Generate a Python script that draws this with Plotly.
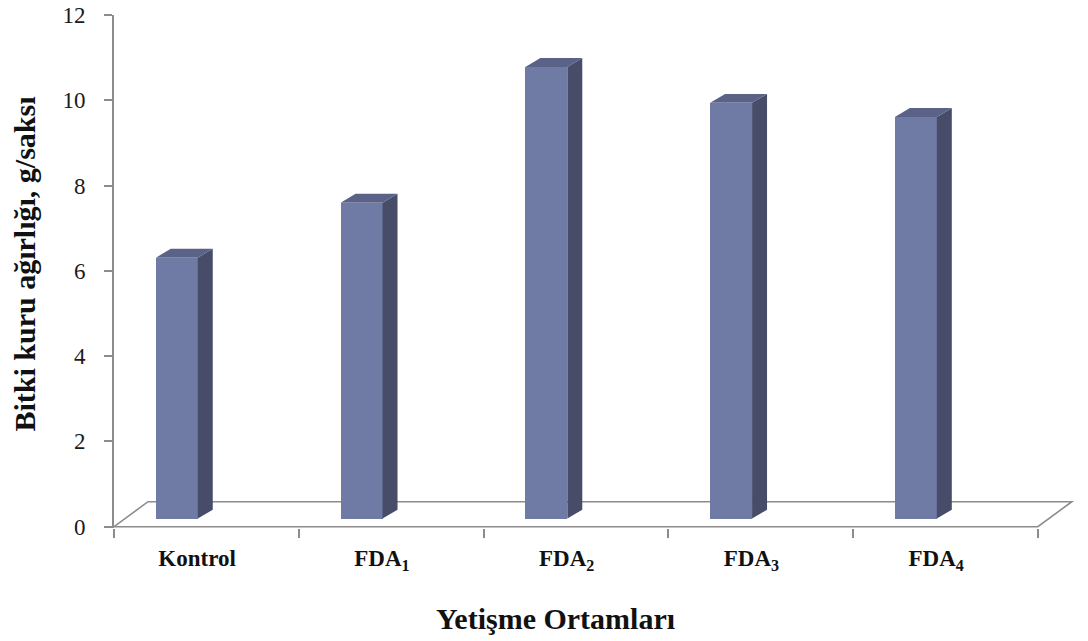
import plotly.graph_objects as go

# Dry weight per growing medium
categories = ["Kontrol", "FDA<sub>1</sub>", "FDA<sub>2</sub>", "FDA<sub>3</sub>", "FDA<sub>4</sub>"]
values = [6.12, 7.41, 10.59, 9.75, 9.42]
y_ticks = [0, 2, 4, 6, 8, 10, 12]

# Pseudo-3D geometry (data units)
bar_shift = -0.16      # front face offset from category centre
bar_width = 0.227
bar_base = 0.19        # front face sits slightly in front of floor back edge
side_dx, side_dy = 0.081, 0.21
floor_dx, floor_dy = 0.184, 0.586

FRONT = "#6f7aa5"
SIDE = "#474c69"
TOP = "#5a6288"
GRID = "#8c8c8c"

fig = go.Figure()

xs = [i + bar_shift for i in range(len(values))]

# front faces
fig.add_trace(go.Bar(
    x=xs, y=values, base=[bar_base] * len(values), width=bar_width,
    marker=dict(color=FRONT, line=dict(width=0)), showlegend=False, hoverinfo="skip",
))

# side and top faces
for xc, v in zip(xs, values):
    xl, xr = xc - bar_width / 2, xc + bar_width / 2
    top = bar_base + v
    fig.add_trace(go.Scatter(
        x=[xr, xr + side_dx, xr + side_dx, xr, xr],
        y=[bar_base, bar_base + side_dy, top + side_dy, top, bar_base],
        mode="lines", fill="toself", fillcolor=SIDE, line=dict(width=0, color=SIDE),
        showlegend=False, hoverinfo="skip",
    ))
    fig.add_trace(go.Scatter(
        x=[xl, xl + side_dx, xr + side_dx, xr, xl],
        y=[top, top + side_dy, top + side_dy, top, top],
        mode="lines", fill="toself", fillcolor=TOP, line=dict(width=0, color=TOP),
        showlegend=False, hoverinfo="skip",
    ))

n = len(values)
x0, x1 = -0.5, n - 0.5

# floor outline
fig.add_shape(
    type="path", xref="x", yref="y", layer="below",
    path=(f"M {x0},0 L {x1},0 L {x1 + floor_dx},{floor_dy} "
          f"L {x0 + floor_dx},{floor_dy} Z"),
    line=dict(color=GRID, width=1.6), fillcolor="rgba(0,0,0,0)",
)

serif = "Liberation Serif, Times New Roman, serif"

fig.update_layout(
    width=1088, height=641,
    margin=dict(l=114, r=4, t=15, b=113),
    paper_bgcolor="white", plot_bgcolor="white",
    bargap=0,
    xaxis=dict(
        range=[x0, x1 + 0.25], showgrid=False, zeroline=False, showline=False,
        tickvals=[i - 0.05 for i in range(n)],
        ticktext=[f"<b>{c}</b>" for c in categories],
        ticks="", ticklabelstandoff=14,
        tickfont=dict(family=serif, size=23, color="#111"),
        minor=dict(ticks="outside", tick0=-0.5, dtick=1, ticklen=9,
                   tickcolor=GRID, tickwidth=1.6, showgrid=False),
    ),
    yaxis=dict(
        range=[-0.03, 12], tickvals=y_ticks, showgrid=False, zeroline=False,
        showline=True, linecolor=GRID, linewidth=1.6,
        ticks="outside", ticklen=8, tickcolor=GRID, tickwidth=1.6,
        ticklabelstandoff=14,
        tickfont=dict(family=serif, size=23, color="#1a1a1a"),
    ),
    annotations=[
        dict(text="<b>Bitki kuru ağırlığı, g/saksı</b>", textangle=-90,
             xref="paper", yref="paper", x=-0.092, y=0.515,
             xanchor="center", yanchor="middle", showarrow=False,
             font=dict(family=serif, size=30, color="#111")),
        dict(text="<b>Yetişme Ortamları</b>",
             xref="paper", yref="paper", x=0.4556, y=-0.177,
             xanchor="center", yanchor="middle", showarrow=False,
             font=dict(family=serif, size=30, color="#111")),
    ],
)

fig.write_html("out.html")
